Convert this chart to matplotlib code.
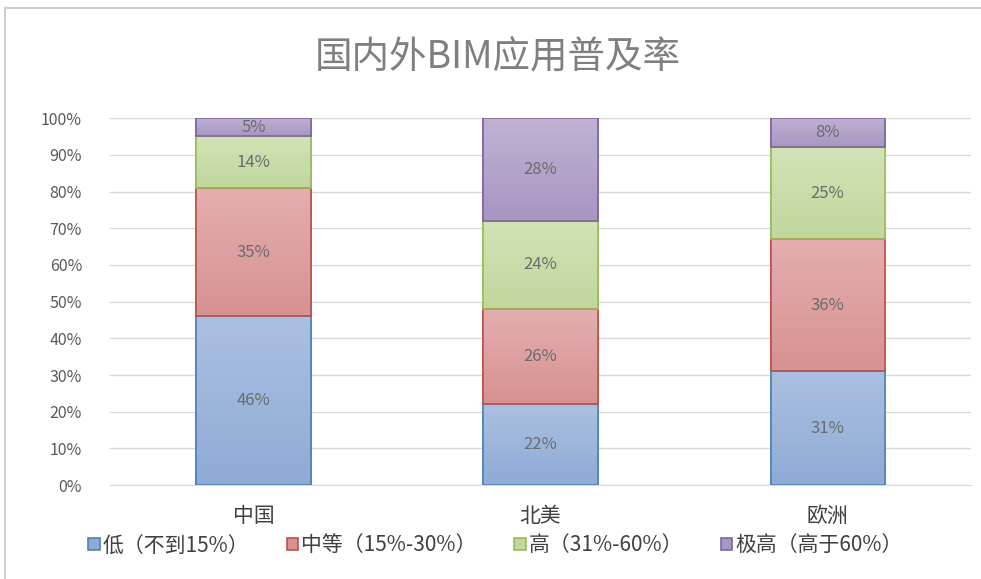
import matplotlib.pyplot as plt
import numpy as np
from matplotlib.colors import LinearSegmentedColormap
from matplotlib.lines import Line2D
from matplotlib.patches import Patch

plt.rcParams['font.family'] = ['Noto Sans CJK SC', 'DejaVu Sans']

regions = ['中国', '北美', '欧洲']
levels = ['低（不到15%）', '中等（15%-30%）', '高（31%-60%）', '极高（高于60%）']
low = [46, 22, 31]
medium = [35, 26, 36]
high = [14, 24, 25]
very_high = [5, 28, 8]

# (top colour, bottom colour, edge colour) for the Excel style gradient
styles = [
    ('#abc0e1', '#8eabd6', '#4f81bd'),
    ('#e5aeae', '#d79292', '#c0504d'),
    ('#d2e3b7', '#c0d79d', '#9bbb59'),
    ('#bfb2d2', '#a896c3', '#8064a2'),
]


def main():
    fig = plt.figure(figsize=(9.81, 5.79), dpi=100)
    ax = fig.add_axes([0.112, 0.162, 0.878, 0.634])

    x = np.arange(len(regions))
    bottom = np.zeros(len(regions))
    grad = np.linspace(0, 1, 100).reshape(-1, 1)
    for vals, (top_c, bot_c, edge_c), name in zip([low, medium, high, very_high], styles, levels):
        vals = np.array(vals, dtype=float)
        bars = ax.bar(x, vals / 100, 0.398, bottom=bottom / 100, color=bot_c,
                      edgecolor=edge_c, linewidth=1.2, zorder=3, label=name)
        cmap = LinearSegmentedColormap.from_list('g', [top_c, bot_c])
        for b in bars:
            x0, y0 = b.get_x(), b.get_y()
            im = ax.imshow(grad, cmap=cmap, aspect='auto', zorder=3.5,
                           extent=[x0, x0 + b.get_width(), y0, y0 + b.get_height()],
                           origin='upper')
            im.set_clip_path(b)
            # redraw edge on top of gradient
            ax.add_patch(plt.Rectangle((x0, y0), b.get_width(), b.get_height(),
                                       fill=False, edgecolor=edge_c, linewidth=1.2, zorder=4))
        for xi, v, bt in zip(x, vals, bottom):
            ax.text(xi, (bt + v / 2) / 100, f'{int(v)}%', ha='center', va='center',
                    fontsize=12, color='#6b6b6b', zorder=5)
        bottom += vals

    ax.set_xlim(-0.5, 2.5)
    ax.set_ylim(0, 1)
    ax.set_yticks(np.arange(0, 1.01, 0.1))
    ax.set_yticklabels([f'{int(round(t * 100))}%' for t in np.arange(0, 1.01, 0.1)])
    ax.set_xticks(x)
    ax.set_xticklabels(regions)
    ax.tick_params(axis='y', length=0, labelsize=11.5, labelcolor='#595959', pad=20)
    ax.tick_params(axis='x', length=0, labelsize=15, labelcolor='#404040', pad=14)
    ax.grid(axis='y', color='#d9d9d9', linewidth=1, zorder=0)
    for s in ['top', 'right', 'left']:
        ax.spines[s].set_visible(False)
    ax.spines['bottom'].set_color('#d9d9d9')

    handles = [Patch(facecolor=bc, edgecolor=ec, linewidth=1.2) for _, bc, ec in styles]
    fig.legend(handles, levels, loc='center', bbox_to_anchor=(0.505, 0.058), ncol=4,
               frameon=False, fontsize=15, handlelength=0.55, handleheight=0.55,
               handletextpad=0.15, columnspacing=1.8, labelcolor='#404040')

    fig.text(0.507, 0.9, '国内外BIM应用普及率', ha='center', va='center',
             fontsize=27, color='#7f7f7f')

    # chart frame
    fig.add_artist(Line2D([5 / 981, 1], [1 - 8 / 579, 1 - 8 / 579], color='#d0d0d0', lw=1.5))
    fig.add_artist(Line2D([5 / 981, 5 / 981], [0, 1 - 8 / 579], color='#d0d0d0', lw=1.5))

    fig.savefig('out.png', dpi=100)


if __name__ == '__main__':
    main()
